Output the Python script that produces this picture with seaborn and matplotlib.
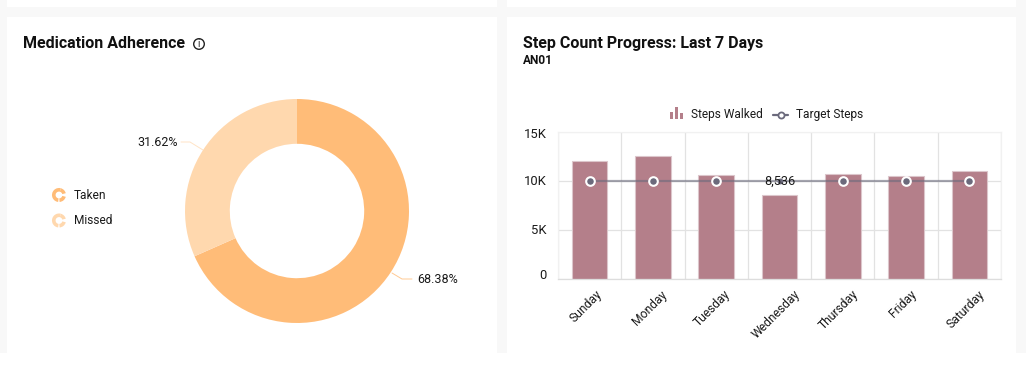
#!/usr/bin/env python3
"""Medication adherence donut and step count combo chart, dashboard style."""

import matplotlib
matplotlib.use('Agg')
import matplotlib.pyplot as plt
from matplotlib.patches import Rectangle, Circle, Wedge
from matplotlib.transforms import ScaledTranslation
from matplotlib.ticker import FixedLocator
import pandas as pd
import seaborn as sns

adherence_labels = ['Taken', 'Missed']
adherence_values = [68.38, 31.62]
adherence_colors = ['#FFBC78', '#FFD8AE']

days = ['Sunday', 'Monday', 'Tuesday', 'Wednesday', 'Thursday', 'Friday', 'Saturday']
steps_walked = [12050, 12520, 10610, 8536, 10710, 10480, 11020]
target_steps = [10000, 10000, 10000, 10000, 10000, 10000, 10000]
y_ticks = [0, 5000, 10000, 15000]
y_tick_labels = ['0', '5K', '10K', '15K']
highlighted_day = 'Wednesday'

W, H = 1026, 367
BAR = '#B47F8A'
TARGET = '#6B6A7C'
GRID = '#E2E2E2'
PALE = '#F1F1F1'
TEXT = '#1A1A1A'

sns.set_theme(style='white')
plt.rcParams['font.family'] = ['Roboto', 'DejaVu Sans']


def px_axes(fig, x0, y0, x1, y1, **kw):
    """Axes placed with pixel coordinates, measured from the top left."""
    return fig.add_axes([x0 / W, 1 - y1 / H, (x1 - x0) / W, (y1 - y0) / H], **kw)


def draw_background(ax):
    ax.set_xlim(0, W)
    ax.set_ylim(H, 0)
    ax.axis('off')
    for x0, y0, x1, y1 in [(7, -5, 497, 7), (507, -5, 1016, 7),
                           (7, 17, 497, 353), (507, 17, 1016, 353),
                           (-5, 353, W + 5, H + 5)]:
        ax.add_patch(Rectangle((x0, y0), x1 - x0, y1 - y0, color='white', lw=0))


def draw_donut(ax):
    ax.pie(adherence_values, colors=adherence_colors, startangle=90, counterclock=False,
           radius=1, wedgeprops=dict(width=0.4, linewidth=0))
    ax.set_xlim(-1, 1)
    ax.set_ylim(-1, 1)


def draw_steps(ax):
    df = pd.DataFrame({'day': days, 'steps': steps_walked, 'target': target_steps})
    sns.barplot(data=df, x='day', y='steps', ax=ax, color=BAR, saturation=1, width=0.56,
                edgecolor='#DCC6CB', linewidth=0.8, zorder=2)
    sns.lineplot(data=df, x='day', y='target', ax=ax, color=TARGET, alpha=0.6, lw=1.6,
                 sort=False, errorbar=None, zorder=3)

    # the hovered day has a plain small dot, the others a white ring
    hovered = df['day'] == highlighted_day
    x_pos = pd.Series(range(len(days)))
    ax.plot(x_pos[~hovered], df['target'][~hovered], ls='none', marker='o', ms=6.2, mfc=TARGET,
            mec='white', mew=1.5, zorder=4)
    ax.plot(x_pos[hovered], df['target'][hovered], ls='none', marker='o', ms=4.2, mfc=TARGET,
            mec=TARGET, mew=0, zorder=4)

    ax.set_xlim(-0.5, 6.5)
    ax.set_ylim(0, 15000)
    ax.set_xlabel('')
    ax.set_ylabel('')
    ax.set_yticks(y_ticks, y_tick_labels)
    ax.set_xticks(range(len(days)), days)
    ax.xaxis.set_minor_locator(FixedLocator([i - 0.5 for i in range(len(days) + 1)]))
    ax.grid(True, axis='y', color=GRID, lw=0.9, zorder=0)
    ax.grid(True, axis='x', which='minor', color=GRID, lw=0.9, zorder=0)
    ax.grid(False, axis='x', which='major')
    ax.set_axisbelow(True)
    ax.get_ygridlines()[-1].set_color(PALE)

    ax.tick_params(axis='y', length=0, pad=8, labelsize=9.4, labelcolor=TEXT)
    ax.tick_params(axis='x', which='major', length=0, pad=6.5, labelsize=8.7, labelcolor=TEXT)
    ax.tick_params(axis='x', which='minor', length=3.5, width=0.8, color='#D5D5D5')
    dpi = ax.figure.dpi
    for label in ax.get_xticklabels():
        label.set_rotation(45)
        label.set_ha('center')
        label.set_va('top')
        label.set_transform(label.get_transform()
                            + ScaledTranslation(-3.5 / dpi, 0, ax.figure.dpi_scale_trans))
    shifts = {'0': 5, '15K': -1}
    for label in ax.get_yticklabels():
        dy = shifts.get(label.get_text(), 1)
        label.set_transform(label.get_transform()
                            + ScaledTranslation(0, dy / dpi, ax.figure.dpi_scale_trans))

    for side, spine in ax.spines.items():
        spine.set_visible(True)
        spine.set_linewidth(0.9)
        spine.set_color('#DDDDDD' if side == 'bottom' else PALE)

    ax.text(3, target_steps[3], f'{steps_walked[3]:,}', ha='center', va='center',
            fontsize=9.2, color=TEXT, zorder=6)


def draw_annotations(ax):
    ax.set_xlim(0, W)
    ax.set_ylim(H, 0)
    ax.axis('off')

    # titles
    ax.text(23, 44, 'Medication Adherence', fontsize=11.5, fontweight='bold', color='#111111', va='center')
    ax.add_patch(Circle((199, 44), 5.3, fc='none', ec='#222222', lw=1))
    ax.text(199, 44.3, 'i', fontsize=7, ha='center', va='center', color='#222222')
    ax.text(523, 43.5, 'Step Count Progress: Last 7 Days', fontsize=11.5, fontweight='bold',
            color='#111111', va='center')
    ax.text(523, 61, 'AN01', fontsize=8.6, fontweight='bold', color='#111111', va='center')

    # donut labels and leaders
    ax.text(137, 142.5, f'{adherence_values[1]:.2f}%', fontsize=9, color=TEXT, va='center')
    ax.plot([181, 190, 203], [142, 142, 150], color=adherence_colors[1], lw=0.7, alpha=0.7)
    ax.text(417, 279.5, f'{adherence_values[0]:.2f}%', fontsize=9, color=TEXT, va='center')
    ax.plot([392, 402, 412], [273, 279, 279], color=adherence_colors[0], lw=0.7, alpha=0.8)

    # donut legend
    for y, name, color in zip([195, 220.5], adherence_labels, adherence_colors):
        ax.add_patch(Wedge((59, y), 7, -75, -15, width=3.6, fc=color, lw=0))
        ax.add_patch(Wedge((59, y), 7, 15, 85, width=3.6, fc=color, lw=0))
        ax.add_patch(Wedge((59, y), 7, 97, 285, width=3.6, fc=color, lw=0))
        ax.text(74, y + 0.3, name, fontsize=8.6, color=TEXT, va='center')

    # combo chart legend
    for x, h in [(670, 7), (675, 12), (680, 6)]:
        ax.add_patch(Rectangle((x, 119 - h), 3.2, h, fc=BAR, lw=0))
    ax.text(691, 114.5, 'Steps Walked', fontsize=8.6, color=TEXT, va='center')
    ax.plot([773, 788], [115, 115], color=TARGET, lw=1.6)
    ax.plot([780.5], [115], marker='o', ms=4.4, mfc='white', mec=TARGET, mew=1.3)
    ax.text(796, 114.5, 'Target Steps', fontsize=8.6, color=TEXT, va='center')


def main():
    fig = plt.figure(figsize=(W / 100, H / 100), dpi=100, facecolor='#F8F8F8')

    draw_background(px_axes(fig, 0, 0, W, H, zorder=0))
    draw_donut(px_axes(fig, 185, 99, 409, 323, zorder=1))
    ax = px_axes(fig, 558, 132, 1001, 279, zorder=1)
    ax.set_facecolor('none')
    draw_steps(ax)
    overlay = px_axes(fig, 0, 0, W, H, zorder=2)
    overlay.patch.set_alpha(0)
    draw_annotations(overlay)

    fig.savefig('out.png', dpi=100, facecolor=fig.get_facecolor())
    plt.close(fig)


if __name__ == '__main__':
    main()
